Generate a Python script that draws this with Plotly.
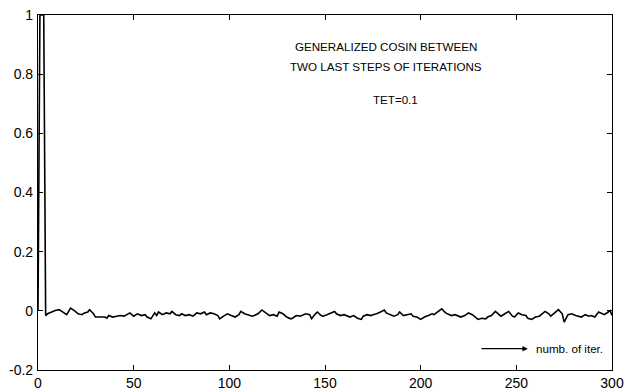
import plotly.graph_objects as go

# Generalized cosine between the two last iteration steps (TET = 0.1)
iterations = [
    0, 1, 3,
    4, 5, 7, 9, 11, 13, 15, 16, 17, 19, 21, 23, 24, 26, 27, 29, 30, 33, 35, 36, 37, 39,
    42, 43, 45, 48, 49, 50, 52, 54, 56, 57, 59, 61, 62, 63, 65, 67, 69, 70, 72, 74,
    75, 77, 79, 81, 83, 85, 87, 88, 90, 92, 94, 95, 97, 99,
    101, 103, 105, 106, 108, 110, 112, 113, 115, 117, 119, 121, 123, 125, 126, 128,
    130, 132, 133, 135, 137, 138, 140, 142, 143, 145, 146, 148, 149, 151, 153, 155,
    156, 158, 160, 162, 163, 165, 167, 169, 170, 172, 174, 175, 177, 179, 181, 182,
    184, 186, 188, 189, 191, 193, 195, 196, 198,
    200, 202, 204, 206, 207, 209, 211, 213, 214, 216, 218, 220, 221, 223, 225, 227,
    228, 230, 232, 234, 235, 237, 239, 241, 242, 244, 246, 248, 249, 251, 253, 255,
    256, 258, 260, 262, 263, 265, 267, 268, 270, 272, 274, 275, 277, 279, 281, 282,
    284, 286, 288, 289, 291, 293, 295, 296, 298, 299, 300,
]
cosine = [
    0.0, 1.0, 1.0,
    -0.016, -0.010, -0.004, 0.001, 0.004, -0.004, -0.013, -0.002, 0.009, 0.001, -0.010,
    -0.013, -0.008, -0.004, 0.004, -0.010, -0.021, -0.021, -0.021, -0.025, -0.016, -0.021,
    -0.018, -0.016, -0.018, -0.007, -0.013, -0.018, -0.010, -0.016, -0.013, -0.021,
    -0.027, -0.007, -0.016, -0.004, -0.013, -0.007, -0.010, -0.002, -0.013, -0.016,
    -0.010, -0.016, -0.013, -0.018, -0.007, -0.010, -0.004, -0.013, -0.007, -0.010,
    -0.016, -0.027, -0.018, -0.010,
    -0.016, -0.021, -0.013, -0.002, -0.010, -0.013, -0.018, -0.016, -0.010, 0.003,
    -0.007, -0.016, -0.013, -0.018, -0.004, -0.010,
    -0.021, -0.027, -0.025, -0.016, -0.018, -0.016, -0.010, -0.013, -0.027, -0.010,
    -0.004, -0.016, -0.018, -0.013, -0.007, -0.002,
    -0.010, -0.016, -0.013, -0.018, -0.021, -0.016, -0.025, -0.029, -0.018, -0.013,
    -0.016, -0.013, -0.010, -0.004, 0.003, -0.007,
    -0.013, -0.018, -0.013, -0.004, -0.016, -0.013, -0.010, -0.018, -0.021,
    -0.029, -0.021, -0.016, -0.010, -0.013, -0.004, 0.007, -0.007, -0.010, -0.016,
    -0.013, -0.018, -0.021, -0.016, -0.007, -0.013,
    -0.018, -0.029, -0.025, -0.027, -0.021, -0.016, -0.002, -0.013, -0.018, -0.010,
    -0.002, -0.018, -0.021, -0.007, -0.013, -0.016,
    -0.025, -0.029, -0.021, -0.018, -0.013, -0.002, -0.010, -0.018, -0.007, 0.004,
    -0.010, -0.038, -0.013, -0.010, -0.016, -0.018,
    -0.021, -0.013, -0.018, -0.016, -0.021, -0.004, -0.010, -0.013, -0.004, 0.001, -0.016,
]

x_ticks = [0, 50, 100, 150, 200, 250, 300]
y_ticks = [-0.2, 0, 0.2, 0.4, 0.6, 0.8, 1]
y_tick_text = ["-0.2", "0", "0.2", "0.4", "0.6", "0.8", "1"]

title_lines = ["GENERALIZED COSIN BETWEEN", "TWO LAST STEPS OF ITERATIONS"]
param_label = "TET=0.1"
axis_note = "numb. of iter."

FONT = "Liberation Sans, Arial, Helvetica, sans-serif"

fig = go.Figure()
fig.add_trace(go.Scatter(
    x=iterations, y=cosine, mode="lines",
    line=dict(color="black", width=1.6),
    hoverinfo="skip", showlegend=False,
))

fig.add_annotation(x=182, y=0.892, text=title_lines[0], showarrow=False,
                   xanchor="center", yanchor="middle",
                   font=dict(family=FONT, size=11.6, color="black"))
fig.add_annotation(x=182, y=0.825, text=title_lines[1], showarrow=False,
                   xanchor="center", yanchor="middle",
                   font=dict(family=FONT, size=11.6, color="black"))
fig.add_annotation(x=187, y=0.714, text=param_label, showarrow=False,
                   xanchor="center", yanchor="middle",
                   font=dict(family=FONT, size=11.6, color="black"))

# arrow pointing along the iteration axis, followed by its label
fig.add_annotation(x=256, y=-0.128, ax=231, ay=-0.128, axref="x", ayref="y",
                   text="", showarrow=True, arrowhead=2, arrowsize=0.9,
                   arrowwidth=1.2, arrowcolor="black")
fig.add_annotation(x=259, y=-0.128, text=axis_note, showarrow=False,
                   xanchor="left", yanchor="middle",
                   font=dict(family=FONT, size=11.6, color="black"))

axis_common = dict(
    showgrid=False, zeroline=False, showline=True, linecolor="black",
    linewidth=1.2, mirror="ticks", ticks="inside", ticklen=5, tickcolor="black",
    tickfont=dict(family=FONT, size=14, color="black"), automargin=False,
)
fig.update_xaxes(range=[0, 300], tickvals=x_ticks, ticklabelstandoff=0, **axis_common)
fig.update_yaxes(range=[-0.2, 1], tickvals=y_ticks, ticktext=y_tick_text,
                 ticklabelstandoff=1, **axis_common)

fig.update_layout(
    width=628, height=390,
    margin=dict(l=38, r=16, t=15, b=20),
    plot_bgcolor="white", paper_bgcolor="white",
    showlegend=False,
)

fig.write_html("out.html")
